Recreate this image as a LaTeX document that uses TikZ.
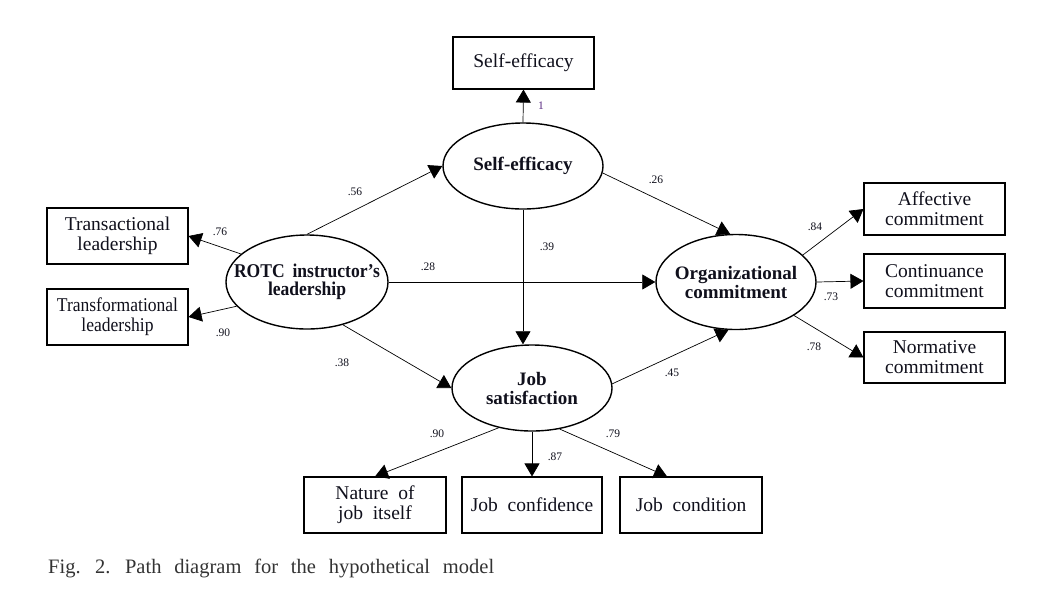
\documentclass[tikz,border=0pt]{standalone}
\usepackage{fontspec}
\setmainfont{Liberation Serif}
\newfontfamily\condserif[FakeStretch=0.9]{Liberation Serif}
\usetikzlibrary{arrows.meta,shapes.geometric,calc}
\definecolor{txt}{HTML}{10101C}
\definecolor{onecol}{HTML}{5B2C83}
\definecolor{capcol}{HTML}{333333}
\begin{document}
\begin{tikzpicture}[x=1pt,y=-1pt,
 box/.style={draw,line width=1.1pt,minimum width=141pt,minimum height=54pt,inner sep=0pt,align=center,text=txt,font=\fontsize{19.5}{20}\selectfont},
 lat/.style={draw,ellipse,line width=1.4pt,inner sep=0pt},
 lattext/.style={align=center,text=txt,inner sep=0pt,font=\bfseries\fontsize{19}{19}\selectfont},
 pathar/.style={line width=0.7pt,-{Triangle[length=13pt,width=15pt]}},
 coef/.style={font=\fontsize{11.5}{12}\selectfont,inner sep=0pt,text=txt},
]
\fill[white] (0,0) rectangle (1041,590);
\useasboundingbox (0,0) rectangle (1041,590);

% latent variables
\node[lat,minimum width=160pt,minimum height=86pt,label={[lattext]center:Self-efficacy}] (se) at (523,166) {};
\node[lat,minimum width=162pt,minimum height=94pt,label={[lattext,font=\condserif\bfseries\fontsize{19.5}{18.5}\selectfont]center:ROTC\hspace{0.4em}instructor’s\\leadership}] (rotc) at (307,282) {};
\node[lat,minimum width=160pt,minimum height=95pt,label={[lattext]center:Organizational\\commitment}] (org) at (736,282) {};
\node[lat,minimum width=160pt,minimum height=86pt,label={[lattext]center:Job\\satisfaction}] (js) at (532,388) {};

% observed variables
\node[box,minimum height=52pt] (sebox) at (523.5,63) {Self-efficacy};
\node[box,minimum height=56pt] (trans) at (117.5,236) {Transactional\\leadership};
\node[box,minimum height=56pt,font=\condserif\fontsize{19.5}{20}\selectfont] (transf) at (117.5,317) {Transformational\\leadership};
\node[box,minimum height=52pt] (aff) at (934.5,209) {Affective\\commitment};
\node[box,minimum height=54pt] (cont) at (934.5,281) {Continuance\\commitment};
\node[box,minimum height=51pt] (norm) at (934.5,357.5) {Normative\\commitment};
\node[box,minimum width=142pt,minimum height=56pt] (nat) at (375,505) {Nature\ \ of\\job\ \ itself};
\node[box,minimum width=140pt,minimum height=56pt] (conf) at (532,505) {Job\ \ confidence};
\node[box,minimum width=142pt,minimum height=56pt] (cond) at (691,505) {Job\ \ condition};

% paths
\draw[pathar] (se.north) -- (sebox.south);
\draw[pathar] (rotc.north) -- (se.west);
\draw[pathar] (se.-5) -- (org.97);
\draw[pathar] (se.south) -- (se.south |- js.north);
\draw[pathar] (rotc.east) -- (org.west);
\draw[pathar] (rotc.-50) -- (js.west);
\draw[pathar] (js.3) -- (org.-99);
\draw[pathar] (rotc.157) -- (trans.east);
\draw[pathar] (rotc.199) -- (transf.east);
\draw[pathar] (org.22) -- (aff.west);
\draw[pathar] (org.east) -- (cont.west);
\draw[pathar] (org.-30) -- (norm.west);
\draw[pathar] (js.-130) -- (nat.north);
\draw[pathar] (js.south) -- (conf.north);
\draw[pathar] (js.-56) -- (cond.130);

% coefficients
\node[coef,text=onecol] (c1) at (541,106) {1};
\node[coef] (c56) at (355,192) {.56};
\node[coef] (c39) at (547,247) {.39};
\node[coef] (c26) at (656,180) {.26};
\node[coef] (c28) at (428,267) {.28};
\node[coef] (c38) at (342,363) {.38};
\node[coef] (c45) at (672,373) {.45};
\node[coef] (c90a) at (437,434) {.90};
\node[coef] (c87) at (555,457) {.87};
\node[coef] (c79) at (613,434) {.79};
\node[coef] (c84) at (815,227) {.84};
\node[coef] (c73) at (831,297) {.73};
\node[coef] (c78) at (814,347) {.78};
\node[coef] (c76) at (220,232) {.76};
\node[coef] (c90b) at (223,333) {.90};

% caption
\node[anchor=base west,inner sep=0pt,text=capcol,font=\fontsize{20.5}{24}\selectfont] (cap) at (48,573) {\spaceskip=12.8pt\relax Fig. 2. Path diagram for the hypothetical model};
\end{tikzpicture}
\end{document}
